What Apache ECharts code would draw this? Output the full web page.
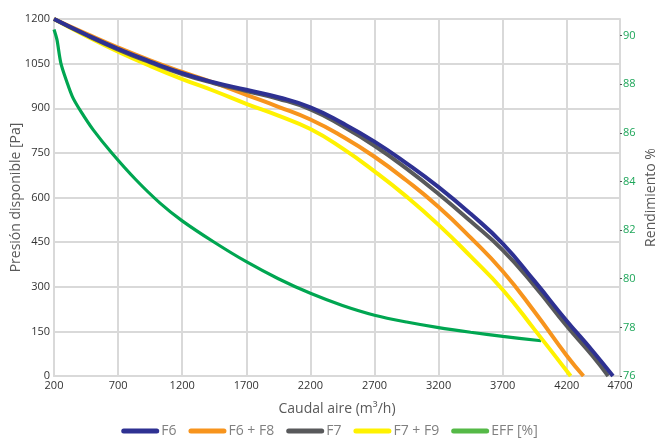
<!DOCTYPE html>
<html>
<head>
<meta charset="utf-8">
<script src="https://cdn.jsdelivr.net/npm/echarts@6/dist/echarts.min.js"></script>
<style>html,body{margin:0;padding:0;background:#fff;}#c{width:659px;height:446px;}</style>
</head>
<body>
<div id="c"></div>
<script>
// ---- data ----
const xTickLabels = ['200','700','1200','1700','2200','2700','3200','3700','4200','4700'];
const yTickStep = 150;
const rightTicks = [76,78,80,82,84,86,88,90];

const f6X   = [200, 450, 700, 950, 1200, 1450, 1700, 1950, 2200, 2450, 2700, 2950, 3200, 3450, 3700, 3950, 4200, 4400, 4560];
const f6Y   = [1200,1148,1100,1057,1018, 987,  962,  937,  903,  850,  788,  715,  635,  545,  445,  318,  185,  85,   0];
const f7X   = [200, 450, 700, 950, 1200, 1450, 1700, 1950, 2200, 2450, 2700, 2950, 3200, 3450, 3700, 3950, 4200, 4400, 4523];
const f7Y   = [1200,1146,1097,1054,1015, 984,  958,  932,  896,  840,  774,  697,  612,  520,  423,  302,  168,  68,   0];
const f6f8X = [200, 450, 700, 950, 1200, 1450, 1700, 1950, 2200, 2450, 2700, 2950, 3200, 3450, 3700, 3950, 4200, 4330];
const f6f8Y = [1200,1151,1104,1061,1022, 985,  945,  905,  862,  805,  737,  657,  568,  465,  352,  215,  68,   0];
const f7f9X = [200, 450, 700, 950, 1200, 1450, 1700, 1950, 2200, 2450, 2700, 2950, 3200, 3450, 3700, 3950, 4230];
const f7f9Y = [1200,1143,1090,1042,998,  958,  915,  875,  830,  765,  688,  603,  508,  402,  290,  155,  0];
const effX  = [200,  223,  253,  300,  345,  412,  506,  651,  837,  1027, 1200, 1450, 1700, 1950, 2200, 2450, 2700, 2950, 3200, 3450, 3700, 4000];
const effY  = [90.25,89.83,88.88,88.1, 87.47,86.86,86.12,85.17,84.08,83.11,82.38,81.5, 80.7, 80.0, 79.4, 78.9, 78.5, 78.22,77.99,77.8, 77.63,77.45];

const X_MIN = 200, X_MAX = 4615;
const R_MIN = 76, R_MAX = 90.68;

const pairs = (xs, ys) => xs.map((x, i) => [x, ys[i]]);
const FONT = '"Open Sans", "Liberation Sans", sans-serif';
const gridColor = '#d9d9d9';
const legendIcon = 'path://M2.5,0 H35.5 A2.5,2.5 0 0 1 35.5,5 H2.5 A2.5,2.5 0 0 1 2.5,0 Z';

const chart = echarts.init(document.getElementById('c'), null, {renderer: 'canvas'});
const mk = (name, data, color, width, yIdx, sm) => ({
  name, type: 'line', data, yAxisIndex: yIdx, smooth: sm, showSymbol: false, symbol: 'none',
  lineStyle: {color, width}, itemStyle: {color}, z: 3, animation: false
});

chart.setOption({
  animation: false,
  textStyle: {fontFamily: FONT},
  grid: {left: 54, right: 39, top: 19, bottom: 70, containLabel: false, outerBoundsMode: 'none'},
  legend: {
    bottom: 3, left: 'center', itemGap: 12, itemWidth: 38, itemHeight: 5, icon: legendIcon,
    textStyle: {color: '#808080', fontSize: 14, fontFamily: FONT, padding: [0,0,0,-3]},
    data: [
      {name: 'F6', itemStyle: {color: '#2e3192'}},
      {name: 'F6 + F8', itemStyle: {color: '#f7941d'}},
      {name: 'F7', itemStyle: {color: '#58595b'}},
      {name: 'F7 + F9', itemStyle: {color: '#fff200'}},
      {name: 'EFF [%]', itemStyle: {color: '#55b947'}}
    ]
  },
  xAxis: {
    type: 'value', min: X_MIN, max: X_MAX, interval: 500,
    name: 'Caudal aire (m³/h)', nameLocation: 'middle', nameGap: 26, nameMoveOverlap: false,
    nameTextStyle: {color: '#595959', fontSize: 14, fontFamily: FONT},
    axisLine: {show: true, lineStyle: {color: gridColor, width: 2}},
    axisTick: {show: false},
    axisLabel: {color: '#333', fontSize: 11, margin: 4, fontFamily: FONT,
      formatter: (v, i) => xTickLabels[i] !== undefined ? xTickLabels[i] : ''},
    splitLine: {show: true, lineStyle: {color: gridColor, width: 2}}
  },
  yAxis: [
    {
      type: 'value', min: 0, max: 1200, interval: yTickStep,
      name: 'Presión disponible [Pa]', nameLocation: 'middle', nameGap: 31, nameRotate: 90, nameMoveOverlap: false,
      nameTextStyle: {color: '#595959', fontSize: 14, fontFamily: FONT},
      axisLine: {show: true, lineStyle: {color: gridColor, width: 2}},
      axisTick: {show: false},
      axisLabel: {color: '#333', fontSize: 11, margin: 4, fontFamily: FONT, formatter: v => String(v)},
      splitLine: {show: true, lineStyle: {color: gridColor, width: 2}}
    },
    {
      type: 'value', position: 'right', min: R_MIN, max: R_MAX, interval: 2,
      name: 'Rendimiento %', nameLocation: 'middle', nameGap: 24, nameRotate: 90, nameMoveOverlap: false,
      nameTextStyle: {color: '#595959', fontSize: 14, fontFamily: FONT},
      axisLine: {show: true, lineStyle: {color: gridColor, width: 2}},
      axisTick: {show: true, length: 2, inside: false, customValues: rightTicks, lineStyle: {color: '#555', width: 1}},
      axisLabel: {color: '#1ea65a', fontSize: 11, margin: 3, fontFamily: FONT, customValues: rightTicks, formatter: v => String(v)},
      splitLine: {show: false}
    }
  ],
  series: [
    mk('EFF [%]', pairs(effX, effY), '#00a651', 3.2, 1, 0.3),
    mk('F7 + F9', pairs(f7f9X, f7f9Y), '#fff200', 4, 0, 0.5),
    mk('F6 + F8', pairs(f6f8X, f6f8Y), '#f7941d', 4, 0, 0.5),
    mk('F7', pairs(f7X, f7Y), '#58595b', 4, 0, 0.5),
    mk('F6', pairs(f6X, f6Y), '#2e3192', 4, 0, 0.5)
  ]
});
</script>
</body>
</html>
